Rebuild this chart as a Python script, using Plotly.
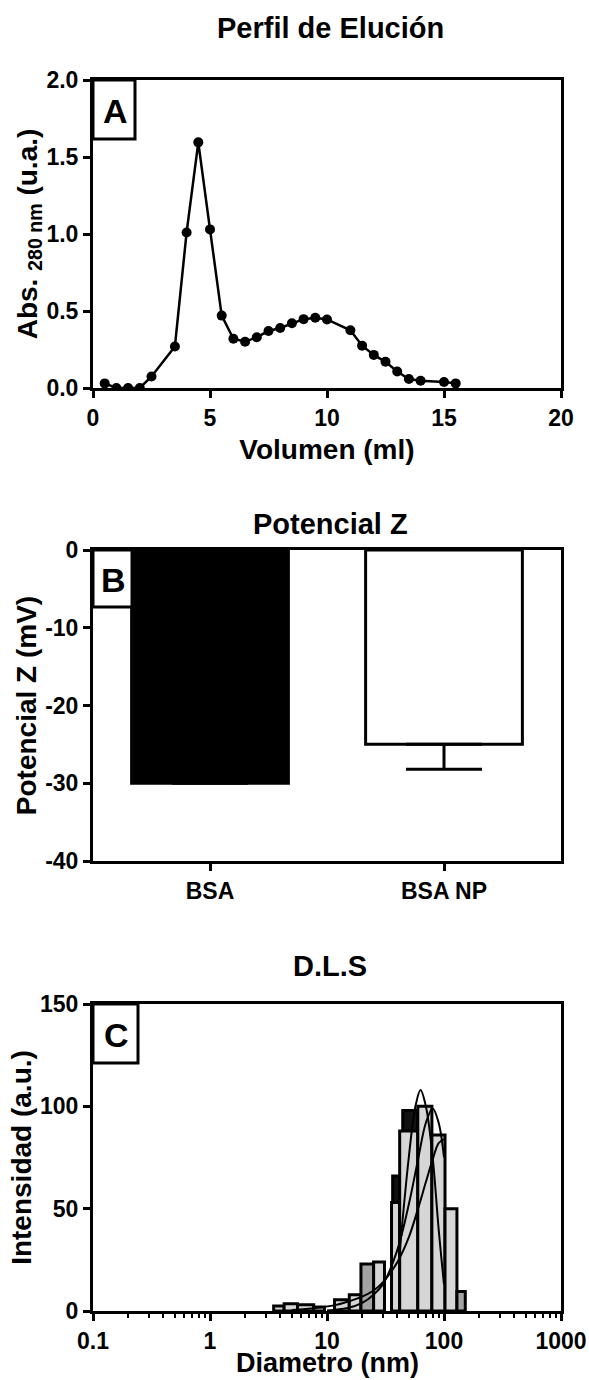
import plotly.graph_objects as go

# ---------------- DATA ----------------
# Panel A: elution profile
vol_ml = [0.5, 1.0, 1.5, 2.0, 2.5, 3.5, 4.0, 4.5, 5.0, 5.5, 6.0, 6.5, 7.0, 7.5,
          8.0, 8.5, 9.0, 9.5, 10.0, 11.0, 11.5, 12.0, 12.5, 13.0, 13.5, 14.0, 15.0, 15.5]
abs_280 = [0.03, 0.00, 0.00, 0.00, 0.075, 0.27, 1.01, 1.595, 1.03, 0.47, 0.32, 0.30, 0.33, 0.37,
           0.39, 0.42, 0.447, 0.456, 0.445, 0.375, 0.275, 0.215, 0.17, 0.107, 0.058, 0.047, 0.039, 0.03]
a_xticks = [0, 5, 10, 15, 20]
a_yticks = [0.0, 0.5, 1.0, 1.5, 2.0]

# Panel B: zeta potential
zeta_cats = ["BSA", "BSA NP"]
zeta_vals = [-30.0, -25.0]
zeta_err = [0.0, 3.2]
b_yticks = [0, -10, -20, -30, -40]

# Panel C: DLS histograms (bin left edge, right edge in nm; intensity)
dls_dark_left = [36.4, 44.4]
dls_dark_right = [44.4, 59.7]
dls_dark_h = [66, 98]

dls_light_left = [3.5, 4.3, 5.6, 7.7, 11.6, 15.5, 25.0, 35.6, 41.8, 59.7, 78.8, 102.0]
dls_light_right = [4.3, 5.6, 7.7, 9.5, 15.5, 19.5, 31.0, 41.8, 59.7, 78.8, 102.0, 129.0]
dls_light_h = [2.5, 3.5, 3.0, 2.0, 5.5, 8.0, 24, 53, 88, 100, 86, 50]

dls_mid_left = [19.5, 129.0]
dls_mid_right = [25.0, 152.0]
dls_mid_h = [23, 9.5]

# fitted curves
fit1_x = [42, 50, 57, 63, 70, 80, 90, 100]
fit1_y = [30, 75, 100, 108, 100, 75, 40, 13]
fit2_x = [10, 15, 20, 25, 30, 40, 50, 60, 70, 80, 90, 100]
fit2_y = [0.3, 1.5, 4, 8, 13, 30, 52, 74, 92, 99, 92, 75]
fit3_x = [5, 8, 12, 16, 20, 25, 30, 40, 50, 60, 70, 80, 90, 100]
fit3_y = [0.5, 1.5, 3.0, 5.0, 7.0, 10, 14, 24, 36, 50, 63, 74, 82, 84]
c_xticks = [0.1, 1, 10, 100, 1000]
c_minor = [m * 10 ** e for e in (-1, 0, 1, 2) for m in range(2, 10)]
c_yticks = [0, 50, 100, 150]

# ---------------- FIGURE ----------------
W, H = 589, 1380
FONT = "Liberation Sans, Arial, sans-serif"

def fx(p):
    return p / W

def fy(p):
    return 1 - p / H

xdom = [fx(93), fx(561)]
domA = [fy(388), fy(80)]
domB = [fy(861), fy(550)]
domC = [fy(1311), fy(1004)]

fig = go.Figure()

# Panel A
fig.add_trace(go.Scatter(x=vol_ml, y=abs_280, mode="lines+markers",
                         line=dict(color="black", width=2.5),
                         marker=dict(color="black", size=10),
                         xaxis="x", yaxis="y", showlegend=False))

# Panel B
fig.add_trace(go.Bar(x=zeta_cats, y=zeta_vals, width=0.67,
                     marker=dict(color=["black", "white"], line=dict(color="black", width=3)),
                     error_y=dict(type="data", symmetric=False, array=[0, 0], arrayminus=zeta_err,
                                  color="black", thickness=3, width=38),
                     xaxis="x2", yaxis="y2", showlegend=False))

# Panel C histograms
for lefts, rights, hs, col in [
    (dls_dark_left, dls_dark_right, dls_dark_h, "#111111"),
    (dls_light_left, dls_light_right, dls_light_h, "#d6d6d6"),
    (dls_mid_left, dls_mid_right, dls_mid_h, "#a3a3a3"),
]:
    for l, r, h in zip(lefts, rights, hs):
        fig.add_trace(go.Scatter(x=[l, l, r, r, l], y=[0, h, h, 0, 0], mode="lines", fill="toself",
                                 fillcolor=col, line=dict(color="black", width=3),
                                 xaxis="x3", yaxis="y3", showlegend=False))

for cx, cy in [(fit1_x, fit1_y), (fit2_x, fit2_y), (fit3_x, fit3_y)]:
    fig.add_trace(go.Scatter(x=cx, y=cy, mode="lines", line=dict(color="black", width=2, shape="spline"),
                             xaxis="x3", yaxis="y3", showlegend=False))

TICK = dict(family=FONT, size=23, color="black", weight="bold")
TITLE = dict(family=FONT, size=28, color="black", weight="bold")
axis_common = dict(showline=True, linecolor="black", linewidth=3, mirror=True,
                   ticks="outside", ticklen=7, tickwidth=3, tickcolor="black",
                   showgrid=False, zeroline=False, automargin=False, tickfont=TICK)

fig.update_layout(
    width=W, height=H,
    margin=dict(l=0, r=0, t=0, b=0),
    paper_bgcolor="white", plot_bgcolor="white",
    font=dict(family=FONT, color="black"),
    xaxis=dict(domain=xdom, anchor="y", range=[0, 20], tickvals=a_xticks,
               ticktext=[str(v) for v in a_xticks],
               title=dict(text="Volumen (ml)", font=TITLE, standoff=10), **axis_common),
    yaxis=dict(domain=domA, anchor="x", range=[0, 2], tickvals=a_yticks,
               ticktext=[f"{v:.1f}" for v in a_yticks],
               title=dict(text="Abs. <sub>280 nm</sub> (u.a.)", font=TITLE, standoff=1), **axis_common),
    xaxis2=dict(domain=xdom, anchor="y2", range=[-0.5, 1.5], **axis_common),
    yaxis2=dict(domain=domB, anchor="x2", range=[-40, 0], tickvals=b_yticks,
                ticktext=[str(v) for v in b_yticks],
                title=dict(text="Potencial Z (mV)", font=TITLE, standoff=1), **axis_common),
    xaxis3=dict(domain=xdom, anchor="y3", type="log", range=[-1, 3],
                tickvals=c_xticks, ticktext=["0.1", "1", "10", "100", "1000"],
                minor=dict(tickvals=c_minor, ticks="outside", ticklen=4, tickwidth=2,
                           tickcolor="black", showgrid=False),
                **axis_common),
    yaxis3=dict(domain=domC, anchor="x3", range=[0, 150], tickvals=c_yticks,
                ticktext=[str(v) for v in c_yticks],
                title=dict(text="Intensidad (a.u.)", font=TITLE, standoff=1), **axis_common),
)

# x title of panel C, placed right under its tick labels
fig.add_annotation(text="Diametro (nm)", x=fx(327), y=fy(1380), xref="paper", yref="paper",
                   showarrow=False, xanchor="center", yanchor="bottom",
                   font=dict(family=FONT, size=27, color="black", weight="bold"))

# Panel titles
for text, ypx in [("Perfil de Elución", 28), ("Potencial Z", 524), ("D.L.S", 966)]:
    fig.add_annotation(text=text, x=fx(330), y=fy(ypx), xref="paper", yref="paper",
                       showarrow=False, xanchor="center", yanchor="middle",
                       font=dict(family=FONT, size=29, color="black", weight="bold"))

# Panel letter boxes
for letter, (x0, y0, x1, y1) in [("A", (93, 80, 135, 139)), ("B", (93, 550, 132, 607)),
                                  ("C", (93, 1004, 138, 1063))]:
    fig.add_shape(type="rect", xref="paper", yref="paper",
                  x0=fx(x0), x1=fx(x1), y0=fy(y1), y1=fy(y0),
                  line=dict(color="black", width=3), fillcolor="white", layer="above")
    fig.add_annotation(text=letter, x=fx((x0 + x1) / 2 + 1), y=fy((y0 + y1) / 2 + 1), xref="paper", yref="paper",
                       showarrow=False, xanchor="center", yanchor="middle",
                       font=dict(family=FONT, size=34, color="black", weight="bold"))

fig.write_html("out.html", config={"displayModeBar": False},
               post_script="document.body.style.margin='0';")
